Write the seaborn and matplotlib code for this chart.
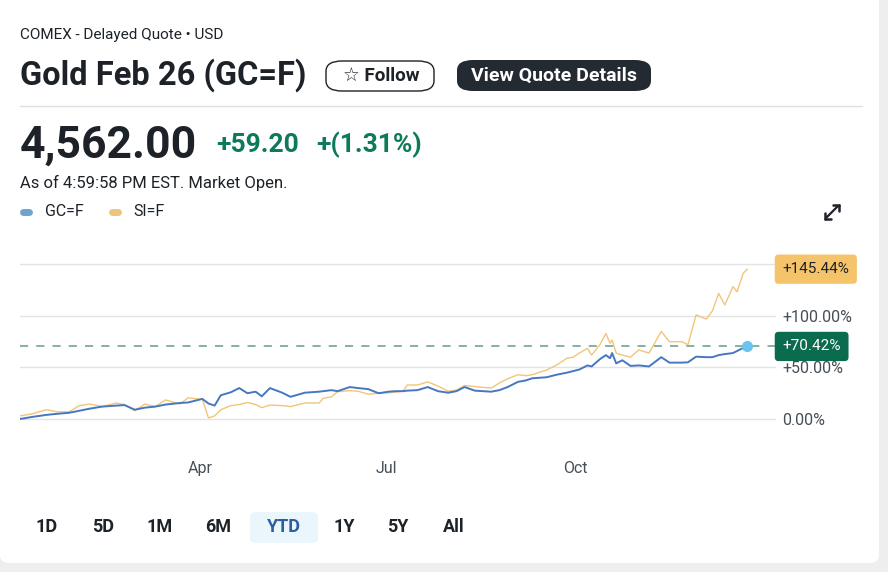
import matplotlib
matplotlib.use("Agg")
import matplotlib.pyplot as plt
from matplotlib.patches import FancyBboxPatch
from matplotlib.lines import Line2D
import pandas as pd
import seaborn as sns

# --- data (percent change YTD) ---
dates = ["2025-01-03", "2025-01-09", "2025-01-16", "2025-01-21", "2025-01-27",
         "2025-02-01", "2025-02-06", "2025-02-12", "2025-02-19", "2025-02-23",
         "2025-02-28", "2025-03-05", "2025-03-10", "2025-03-15", "2025-03-22",
         "2025-03-26", "2025-04-02", "2025-04-05", "2025-04-08", "2025-04-11",
         "2025-04-16", "2025-04-20", "2025-04-24", "2025-04-28", "2025-05-01",
         "2025-05-05", "2025-05-11", "2025-05-15", "2025-05-22", "2025-05-29",
         "2025-05-31", "2025-06-04", "2025-06-07", "2025-06-13", "2025-06-17",
         "2025-06-22", "2025-06-27", "2025-07-02", "2025-07-05", "2025-07-09",
         "2025-07-11", "2025-07-16", "2025-07-21", "2025-07-26", "2025-07-31",
         "2025-08-04", "2025-08-08", "2025-08-13", "2025-08-21", "2025-08-25",
         "2025-08-29", "2025-09-03", "2025-09-07", "2025-09-10", "2025-09-17",
         "2025-09-22", "2025-09-27", "2025-09-30", "2025-10-03", "2025-10-07",
         "2025-10-09", "2025-10-13", "2025-10-16", "2025-10-18", "2025-10-19",
         "2025-10-21", "2025-10-24", "2025-10-28", "2025-11-01", "2025-11-06",
         "2025-11-12", "2025-11-16", "2025-11-22", "2025-11-25", "2025-11-29",
         "2025-12-04", "2025-12-07", "2025-12-10", "2025-12-13", "2025-12-17",
         "2025-12-19", "2025-12-22", "2025-12-24"]

gold = [0, 2, 4, 5, 6,
        8, 10, 12, 13, 13.5,
        9, 11, 12, 14, 15.5,
        16, 19.5, 15, 13, 23,
        26, 30, 25, 26.5, 22,
        30, 25.5, 21.5, 25.5, 26.5,
        27, 28, 27, 31, 30,
        29, 25, 26.5, 27, 27,
        27.5, 28, 31, 27, 25.5,
        27, 31, 27.5, 26.5, 28,
        31, 36, 37.5, 39.5, 40.5,
        43, 45, 46.5, 48, 52,
        51, 58, 62, 59, 64,
        54, 57, 51.5, 52, 51,
        60, 54.7, 54.7, 55, 60.5,
        60, 60, 62, 63, 64,
        66, 69, 70.42]

silver = [3, 5, 9, 7, 7,
          13, 14.5, 12, 15.5, 14,
          8, 14.5, 12, 18.5, 14.5,
          20.5, 19, 1, 3, 9,
          13, 14, 16, 14, 11,
          13.5, 13, 12, 15.5, 15.5,
          20, 21.5, 26.5, 27.5, 27,
          24, 25, 25.5, 26, 27,
          33, 33, 36, 32, 27,
          28, 32.5, 31.5, 30, 35,
          39, 43, 42, 43, 47.5,
          52.5, 59, 60, 64, 68.5,
          62, 72, 83, 73.5, 76.7,
          64, 62, 60, 67, 64,
          85, 75, 75, 72, 101,
          97, 105, 122, 110.7, 128.5,
          123.6, 141.5, 145.44]

symbols = ["GC=F", "SI=F"]
month_ticks = ["2025-04-01", "2025-07-01", "2025-10-01"]
month_labels = ["Apr", "Jul", "Oct"]
y_ticks = [0, 50, 100, 150]
y_labels = ["0.00%", "+50.00%", "+100.00%", ""]
ranges = ["1D", "5D", "1M", "6M", "YTD", "1Y", "5Y", "All"]

df = pd.DataFrame({"date": pd.to_datetime(dates), "GC=F": gold, "SI=F": silver})
long = df.melt(id_vars="date", var_name="symbol", value_name="pct")

BLUE = "#4677c0"
ORANGE = "#f1c57a"
GREEN = "#0c7a5b"
DARK = "#1d2228"

sns.set_style("white")
plt.rcParams["font.family"] = ["Roboto", "DejaVu Sans"]

W, H = 888, 572
fig = plt.figure(figsize=(W / 100, H / 100), dpi=100)
fig.patch.set_facecolor("#eeeeee")


def fx(x):
    return x / W


def fy(y):
    return 1 - y / H


# white card
fig.patches.append(FancyBboxPatch((0, fy(563)), fx(879), 1 - fy(563) + 0.02,
                                  boxstyle="round,pad=0,rounding_size=0.012",
                                  transform=fig.transFigure, fc="white", ec="none", zorder=-5))

# header
fig.text(fx(20), fy(35), "COMEX - Delayed Quote \u2022 USD", fontsize=11, color=DARK, va="center")
fig.text(fx(20), fy(75), "Gold Feb 26 (GC=F)", fontsize=23.5, weight="bold", color=DARK, va="center")
fig.patches.append(FancyBboxPatch((fx(326), fy(91)), fx(108), fy(61) - fy(91),
                                  boxstyle="round,pad=0,rounding_size=0.018",
                                  transform=fig.transFigure, fc="white", ec=DARK, lw=1))
fig.text(fx(381), fy(76), "\u2606 Follow", fontsize=13.5, color=DARK, ha="center", va="center",
         weight="semibold")
fig.patches.append(FancyBboxPatch((fx(457), fy(91)), fx(194), fy(60) - fy(91),
                                  boxstyle="round,pad=0,rounding_size=0.018",
                                  transform=fig.transFigure, fc="#232a31", ec="none"))
fig.text(fx(554), fy(75.5), "View Quote Details", fontsize=14, color="white", ha="center",
         va="center", weight="bold")
fig.add_artist(Line2D([fx(20), fx(862)], [fy(106), fy(106)], color="#e0e0e0", lw=1))

fig.text(fx(20), fy(146), "4,562.00", fontsize=32, weight="bold", color=DARK, va="center")
fig.text(fx(216), fy(145), "+59.20", fontsize=19, weight="bold", color=GREEN, va="center")
fig.text(fx(316), fy(145), "+(1.31%)", fontsize=19, weight="bold", color=GREEN, va="center")
fig.text(fx(20), fy(183), "As of 4:59:58 PM EST. Market Open.", fontsize=12, color=DARK, va="center")

# legend
for sx, tx, col, name in [(26, 45, "#6fa3cf", symbols[0]), (115, 133, "#edc47e", symbols[1])]:
    fig.add_artist(Line2D([fx(sx - 3), fx(sx + 3)], [fy(212), fy(212)], color=col, lw=5,
                          solid_capstyle="round"))
    fig.text(fx(tx), fy(212), name, fontsize=11.5, color=DARK, va="center")

# expand icon
fig.add_artist(Line2D([fx(826), fx(838)], [fy(218), fy(206)], color=DARK, lw=1.6))
for px, py, dx, dy in [(825, 219, 1, -1), (839, 205, -1, 1)]:
    fig.add_artist(Line2D([fx(px), fx(px + 6 * dx)], [fy(py), fy(py)], color=DARK, lw=1.8))
    fig.add_artist(Line2D([fx(px), fx(px)], [fy(py), fy(py + 6 * dy)], color=DARK, lw=1.8))

# chart
ax = fig.add_axes([fx(20), fy(430), fx(756), (430 - 255) / H])
ax.set_facecolor("none")
sns.lineplot(data=long, x="date", y="pct", hue="symbol", palette=[BLUE, ORANGE],
             hue_order=symbols, ax=ax, legend=False)
lines = ax.get_lines()
lines[0].set_linewidth(1.4)
lines[0].set_zorder(4)
lines[1].set_linewidth(1.0)
lines[1].set_zorder(3)

ax.axhline(gold[-1], color="#7fa89e", lw=1.3, ls=(0, (4.5, 4.5)), zorder=2)
ax.plot(pd.to_datetime(dates[-1]), gold[-1], "o", color="#6cc4ee", ms=7, zorder=5)

ax.set_xlim(pd.Timestamp("2025-01-03"), pd.Timestamp("2026-01-07"))
ax.set_ylim(-10.7, 159.2)
ax.set_xticks(pd.to_datetime(month_ticks))
ax.set_xticklabels(month_labels)
ax.set_yticks(y_ticks)
ax.set_yticklabels(y_labels)
ax.yaxis.tick_right()
ax.tick_params(axis="x", length=0, pad=22, labelsize=11.5, labelcolor="#464e56")
ax.tick_params(axis="y", length=0, pad=4.5, labelsize=11.5, labelcolor="#464e56")
ax.grid(axis="y", color="#e3e3e3", lw=1)
ax.grid(axis="x", visible=False)
for s in ax.spines.values():
    s.set_visible(False)
ax.set_xlabel("")
ax.set_ylabel("")

# value badges
for val, fc, tc in [(silver[-1], "#f5c46a", DARK), (gold[-1], "#0b6b4f", "white")]:
    ax.annotate(f"+{val:.2f}%", xy=(1, val), xycoords=("axes fraction", "data"),
                xytext=(4.6, 0), textcoords="offset points", ha="left", va="center",
                fontsize=11, color=tc, zorder=10, annotation_clip=False,
                bbox=dict(boxstyle="round,pad=0.5,rounding_size=0.25", fc=fc, ec="none"))

# range buttons
btn_x = [47, 103, 160, 218, 284, 344, 398, 454]
fig.patches.append(FancyBboxPatch((fx(250), fy(543)), fx(68), fy(512) - fy(543),
                                  boxstyle="round,pad=0,rounding_size=0.008",
                                  transform=fig.transFigure, fc="#eaf5fc", ec="none"))
for bx, lab in zip(btn_x, ranges):
    fig.text(fx(bx), fy(527), lab, fontsize=13, weight="semibold", ha="center", va="center",
             color="#2d5f9f" if lab == "YTD" else DARK)

fig.savefig("out.png", dpi=100, facecolor=fig.get_facecolor())
